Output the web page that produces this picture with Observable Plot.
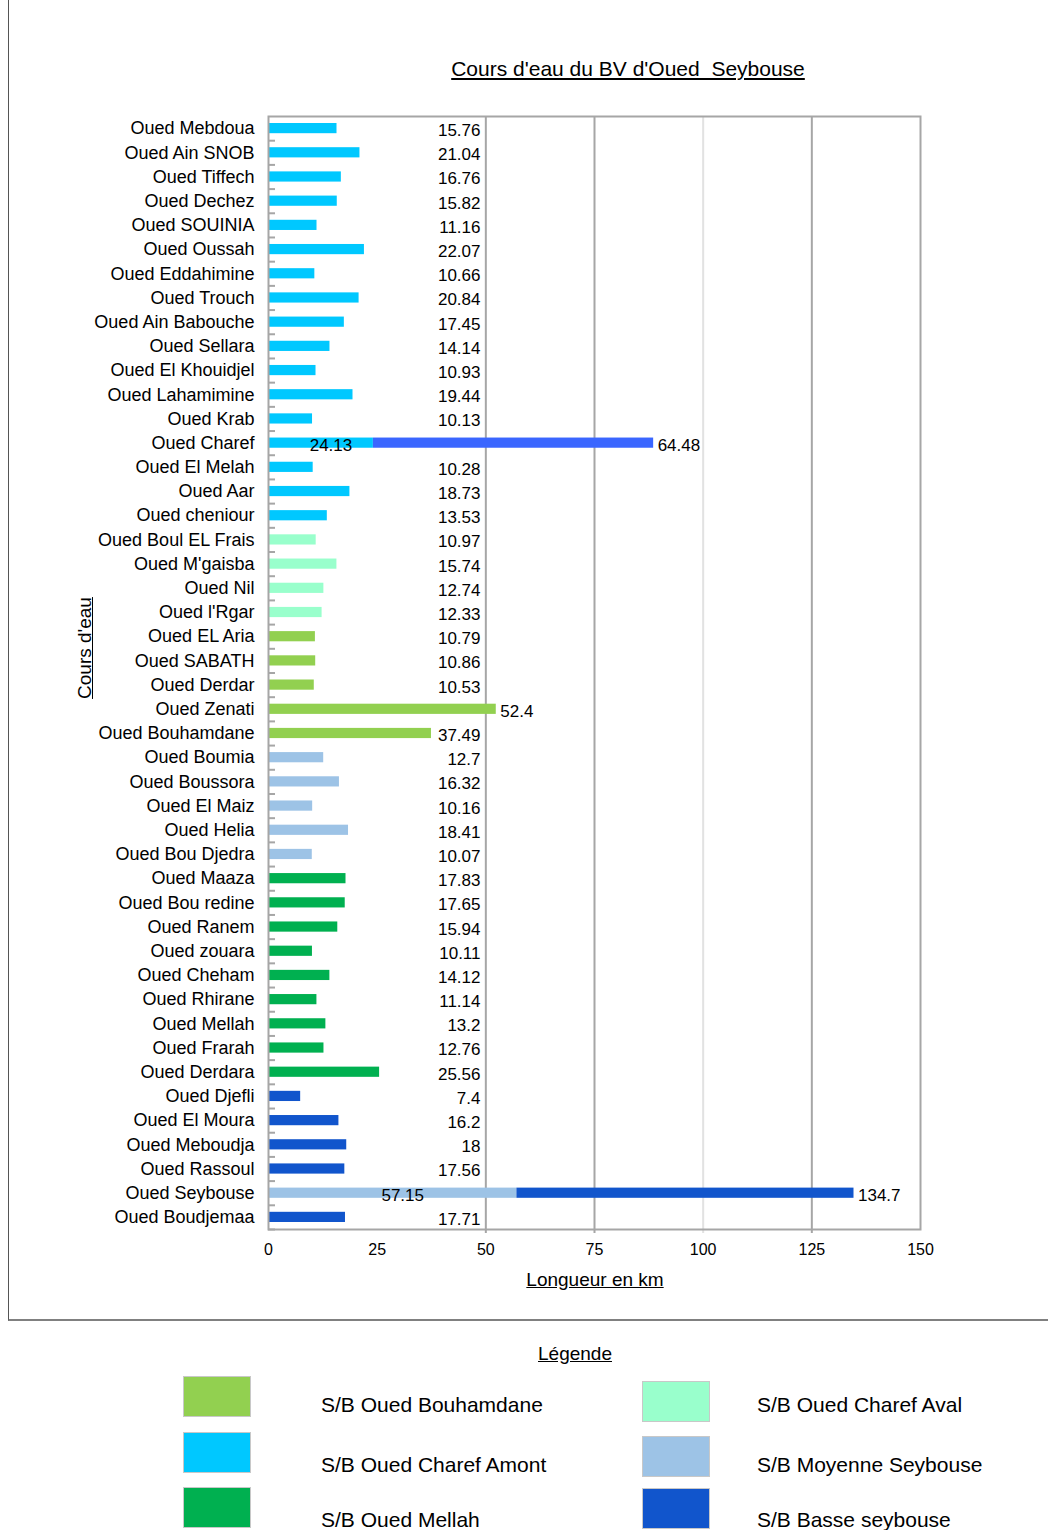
<!DOCTYPE html>
<html>
<head>
<meta charset="utf-8">
<script src="https://cdn.jsdelivr.net/npm/d3@7"></script>
<script src="https://cdn.jsdelivr.net/npm/@observablehq/plot@0.6"></script>
<style>
  html, body { margin: 0; padding: 0; background: #fff; }
  body { width: 1048px; height: 1530px; position: relative; overflow: hidden;
         font-family: "Liberation Sans", Arial, sans-serif; color: #000; }
  #border { position: absolute; left: 8px; top: 0; width: 1040px; height: 1321px;
            border-left: 1px solid #555; border-bottom: 2px solid #808080; box-sizing: border-box; }
  #title { position: absolute; top: 57px; left: 628px; transform: translateX(-50%);
           font-size: 21px; text-decoration: underline; white-space: pre; }
  #chart { position: absolute; left: 0; top: 100px; }
  #ytitle { position: absolute; left: 85px; top: 648px; transform: translate(-50%, -50%) rotate(-90deg);
            font-size: 19px; text-decoration: underline; white-space: pre; line-height: 22px; }
  #xtitle { position: absolute; left: 595px; top: 1280px; transform: translate(-50%, -50%);
            font-size: 19px; text-decoration: underline; white-space: pre; line-height: 22px; }
  .abs { position: absolute; white-space: pre; }
  .sw { position: absolute; width: 66px; border: 1px solid #c8c8c8; }
</style>
</head>
<body>
<div id="border"></div>
<div id="title">Cours d'eau du BV d'Oued  Seybouse</div>
<div id="chart"></div>
<div id="ytitle">Cours d'eau</div>
<div id="xtitle">Longueur en km</div>
<div id="legend"></div>
<script>
// ---- data ----
const names = [
  "Oued Mebdoua", "Oued Ain SNOB", "Oued Tiffech", "Oued Dechez", "Oued SOUINIA",
  "Oued Oussah", "Oued Eddahimine", "Oued Trouch", "Oued Ain Babouche", "Oued Sellara",
  "Oued El Khouidjel", "Oued Lahamimine", "Oued Krab", "Oued Charef", "Oued El Melah",
  "Oued Aar", "Oued cheniour", "Oued Boul EL Frais", "Oued M'gaisba", "Oued Nil",
  "Oued l'Rgar", "Oued EL Aria", "Oued SABATH", "Oued Derdar", "Oued Zenati",
  "Oued Bouhamdane", "Oued Boumia", "Oued Boussora", "Oued El Maiz", "Oued Helia",
  "Oued Bou Djedra", "Oued Maaza", "Oued Bou redine", "Oued Ranem", "Oued zouara",
  "Oued Cheham", "Oued Rhirane", "Oued Mellah", "Oued Frarah", "Oued Derdara",
  "Oued Djefli", "Oued El Moura", "Oued Meboudja", "Oued Rassoul", "Oued Seybouse",
  "Oued Boudjemaa"
];
const lengths = [
  15.76, 21.04, 16.76, 15.82, 11.16,
  22.07, 10.66, 20.84, 17.45, 14.14,
  10.93, 19.44, 10.13, 24.13, 10.28,
  18.73, 13.53, 10.97, 15.74, 12.74,
  12.33, 10.79, 10.86, 10.53, 52.4,
  37.49, 12.7, 16.32, 10.16, 18.41,
  10.07, 17.83, 17.65, 15.94, 10.11,
  14.12, 11.14, 13.2, 12.76, 25.56,
  7.4, 16.2, 18, 17.56, 57.15,
  17.71
];
const AMONT = "S/B Oued Charef Amont", AVAL = "S/B Oued Charef Aval",
      BOUH = "S/B Oued Bouhamdane", MOY = "S/B Moyenne Seybouse",
      MELL = "S/B Oued Mellah", BASSE = "S/B Basse seybouse",
      CHAREF2 = "Oued Charef (aval)";
const basins = [
  AMONT, AMONT, AMONT, AMONT, AMONT, AMONT, AMONT, AMONT, AMONT, AMONT,
  AMONT, AMONT, AMONT, AMONT, AMONT, AMONT, AMONT,
  AVAL, AVAL, AVAL, AVAL,
  BOUH, BOUH, BOUH, BOUH, BOUH,
  MOY, MOY, MOY, MOY, MOY,
  MELL, MELL, MELL, MELL, MELL, MELL, MELL, MELL, MELL,
  BASSE, BASSE, BASSE, BASSE, MOY, BASSE
];
// second (stacked) segments
const extraNames = ["Oued Charef", "Oued Seybouse"];
const extraValues = [64.48, 77.55];
const extraBasins = [CHAREF2, BASSE];
const extraLabels = ["64.48", "134.7"];

const xTicks = [0, 25, 50, 75, 100, 125, 150];
const gridStrong = [50, 75, 125];
const gridLight = [100];

const colorDomain = [BOUH, AMONT, MELL, AVAL, MOY, BASSE, CHAREF2];
const colorRange  = ["#92d050", "#00c8ff", "#00b050", "#99ffcc", "#9dc3e6", "#1155cc", "#3a66ff"];
const legendCol1 = [BOUH, AMONT, MELL];
const legendCol2 = [AVAL, MOY, BASSE];

// ---- table ----
const rows = names.map((n, i) => ({
  name: n, basin: basins[i], x1: 0, x2: lengths[i], label: String(lengths[i]),
  part: extraNames.includes(n) ? "inner" : (lengths[i] > 45 ? "end" : "column")
}));
extraNames.forEach((n, j) => {
  const base = lengths[names.indexOf(n)];
  rows.push({ name: n, basin: extraBasins[j], x1: base, x2: base + extraValues[j],
              label: extraLabels[j], part: "end" });
});

const H = 1220, MT = 16, MB = 91;
const step = (H - MT - MB) / names.length;
const gray = "#a6a6a6";

const plot = Plot.plot({
  width: 1048, height: H,
  marginLeft: 268, marginRight: 128, marginTop: MT, marginBottom: MB,
  style: { fontFamily: "'Liberation Sans', Arial, sans-serif", fontSize: "17px", background: "transparent", color: "#000" },
  x: { domain: [0, 150] },
  y: { domain: names, padding: 0, round: false },
  color: { domain: colorDomain, range: colorRange },
  marks: [
    Plot.ruleX(gridLight, { stroke: "#e2e2e2", strokeWidth: 2, insetBottom: -4 }),
    Plot.ruleX(gridStrong, { stroke: gray, strokeWidth: 2, insetBottom: -4 }),
    Plot.barX(rows, { x1: "x1", x2: "x2", y: "name", fill: "basin", insetTop: 7, insetBottom: 7 }),
    Plot.frame({ stroke: gray, strokeWidth: 2 }),
    Plot.axisX({ ticks: xTicks, tickSize: 0, tickPadding: 14, fontSize: 16, label: null }),
    Plot.axisY({ tickSize: 0, tickPadding: 14, fontSize: 18, label: null }),
    Plot.axisY({ text: null, tickSize: -7, dy: step / 2, stroke: gray, strokeWidth: 2, label: null }),
    Plot.text(rows.filter(d => d.part === "column"), {
      y: "name", text: "label", frameAnchor: "left", dx: 212, dy: 2, textAnchor: "end", fontSize: 17
    }),
    Plot.text(rows.filter(d => d.part === "end"), {
      x: "x2", y: "name", text: "label", dx: 4, dy: 2, textAnchor: "start", fontSize: 17
    }),
    Plot.text(rows.filter(d => d.part === "inner"), {
      x: d => (d.x1 + d.x2) / 2, y: "name", text: "label", dx: 10, dy: 2, fontSize: 17
    })
  ]
});
document.getElementById("chart").appendChild(plot);

// ---- legend (HTML, below the chart) ----
const legend = d3.select("#legend");
const color = plot.scale("color");
legend.append("div").attr("class", "abs")
  .style("left", "575px").style("top", "1343px").style("transform", "translateX(-50%)")
  .style("font-size", "19px").style("text-decoration", "underline").text("Légende");
const swTop1 = [1376, 1432, 1487], swTop2 = [1381, 1436, 1488];
const textY = [1405, 1465, 1520];
[[legendCol1, 183, 321, swTop1], [legendCol2, 642, 757, swTop2]].forEach(([items, sx, tx, tops]) => {
  items.forEach((b, i) => {
    legend.append("div").attr("class", "sw")
      .style("left", sx + "px").style("top", tops[i] + "px").style("height", "39px")
      .style("background", color.apply(b));
    legend.append("div").attr("class", "abs")
      .style("left", tx + "px").style("top", (textY[i] - 12) + "px")
      .style("font-size", "21px").style("line-height", "24px").text(b);
  });
});
</script>
</body>
</html>
